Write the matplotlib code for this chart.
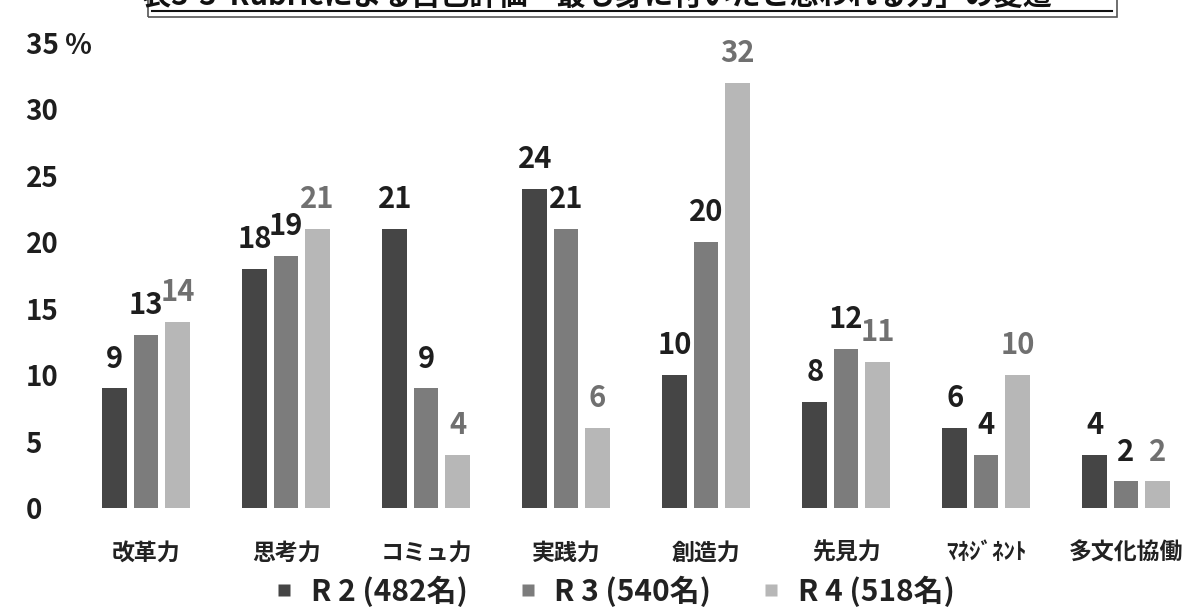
import numpy as np
import matplotlib
matplotlib.use('Agg')
import matplotlib.pyplot as plt
from matplotlib.lines import Line2D
from matplotlib.patches import Rectangle

plt.rcParams['font.family'] = ['Noto Sans CJK JP', 'DejaVu Sans']

# データ（％）
categories = ['改革力', '思考力', 'コミュ力', '実践力', '創造力', '先見力', 'ﾏﾈｼﾞﾈﾝﾄ', '多文化協働']
r2 = [9, 18, 21, 24, 10, 8, 6, 4]
r3 = [13, 19, 9, 21, 20, 12, 4, 2]
r4 = [14, 21, 4, 6, 32, 11, 10, 2]
series_names = ['R 2 (482名)', 'R 3 (540名)', 'R 4 (518名)']
yticks = [0, 5, 10, 15, 20, 25, 30, 35]
ytick_labels = ['0', '5', '10', '15', '20', '25', '30', '35 %']
title = '表3-3  Rubricによる自己評価「最も身に付いたと思われる力」の変遷'

colors = ['#454545', '#7c7c7c', '#b7b7b7']
label_colors = ['#1e1e1e', '#1e1e1e', '#707070']

W, H = 1193, 608
fig = plt.figure(figsize=(W / 100, H / 100), dpi=100)
fig.patch.set_facecolor('white')

# 軸の配置（ピクセル基準）
ax_l, ax_r = 70, 1193
ax_bot, ax_top = 508, 43
ax = fig.add_axes([ax_l / W, (H - ax_bot) / H, (ax_r - ax_l) / W, (ax_bot - ax_top) / H])
x = np.arange(len(categories))
ax.set_xlim((ax_l - 146) / 140, (ax_r - 146) / 140)
ax.set_ylim(0, 35)

width = 0.178
offsets = [-0.222, 0.0, 0.225]
for vals, off, c, lc in zip([r2, r3, r4], offsets, colors, label_colors):
    bars = ax.bar(x + off, vals, width, color=c, edgecolor='none')
    for b, v in zip(bars, vals):
        ax.annotate(str(v), (b.get_x() + b.get_width() / 2, v),
                    xytext=(0, 15), textcoords='offset points',
                    ha='center', va='baseline', fontsize=21,
                    fontweight='bold', color=lc)

for s in ax.spines.values():
    s.set_visible(False)
ax.set_yticks(yticks)
ax.set_yticklabels(ytick_labels, fontsize=20, fontweight='bold', color='#1e1e1e')
ax.tick_params(axis='y', length=0, pad=32)
for t in ax.get_yticklabels():
    t.set_ha('left')
ax.set_xticks(x)
ax.set_xticklabels(categories, fontsize=16.5, fontweight='bold', color='#222222')
ax.tick_params(axis='x', length=0, pad=24)

# 凡例
handles = [Line2D([], [], marker='s', linestyle='none', markersize=8,
                  markerfacecolor=c, markeredgecolor='none') for c in colors]
fig.legend(handles, series_names, loc='center', bbox_to_anchor=(0.513, 1 - 591 / H),
           ncol=3, frameon=False, handletextpad=0.4, handlelength=1.0,
           columnspacing=1.5, prop={'weight': 'bold', 'size': 21.5})
for t in fig.legends[0].get_texts():
    t.set_color('#222222')

# 上部の表題（枠付き・下線）
fig.patches.append(Rectangle((148 / W, 1 - 17 / H), (1117 - 148) / W, 0.1,
                             transform=fig.transFigure, fill=False,
                             edgecolor='#555555', linewidth=1.2))
fig.add_artist(Line2D([152 / W, 1112 / W], [1 - 11 / H, 1 - 11 / H],
                      transform=fig.transFigure, color='#111111', linewidth=1.5))
fig.text(0.5, 1 - 5 / H, title, ha='center', va='baseline', fontsize=21,
         fontweight='bold', color='#111111')

fig.savefig('out.png', dpi=100, facecolor='white')
